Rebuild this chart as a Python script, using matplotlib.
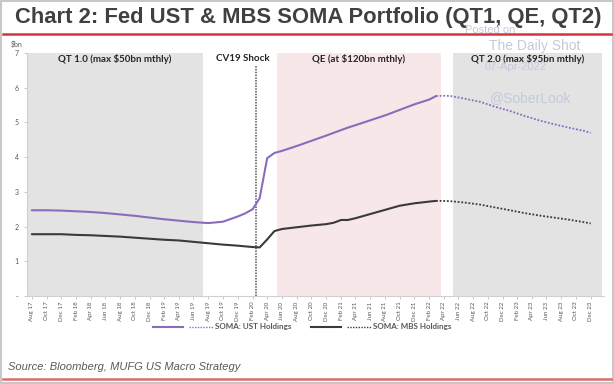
import matplotlib
matplotlib.use("Agg")
import matplotlib.pyplot as plt
import matplotlib.dates as mdates
from matplotlib.lines import Line2D
from matplotlib.patches import Rectangle
import pandas as pd

# ---------------- data ----------------
hist_dates = ["2017-08", "2017-10", "2017-12", "2018-02", "2018-04", "2018-06", "2018-08",
              "2018-10", "2018-12", "2019-02", "2019-04", "2019-06", "2019-08", "2019-10",
              "2019-12", "2020-01", "2020-02", "2020-03", "2020-04", "2020-05", "2020-06",
              "2020-08", "2020-10", "2020-12", "2021-01", "2021-02", "2021-03", "2021-04",
              "2021-06", "2021-08", "2021-10", "2021-12", "2022-02", "2022-03"]
ust_hist = [2.47, 2.47, 2.46, 2.44, 2.42, 2.39, 2.35, 2.31, 2.26, 2.21, 2.17, 2.13, 2.10, 2.14,
            2.29, 2.38, 2.50, 2.82, 3.97, 4.12, 4.18, 4.32, 4.47, 4.62, 4.70, 4.78, 4.85, 4.92,
            5.06, 5.20, 5.36, 5.52, 5.66, 5.76]
mbs_hist = [1.78, 1.78, 1.78, 1.76, 1.75, 1.73, 1.71, 1.68, 1.65, 1.62, 1.60, 1.56, 1.52, 1.48,
            1.45, 1.43, 1.41, 1.40, 1.63, 1.87, 1.93, 1.98, 2.03, 2.07, 2.11, 2.19, 2.19, 2.24,
            2.36, 2.48, 2.60, 2.67, 2.72, 2.74]

proj_dates = ["2022-03", "2022-04", "2022-05", "2022-07", "2022-09", "2022-11", "2023-01",
              "2023-03", "2023-05", "2023-07", "2023-09", "2023-11", "2023-12"]
ust_proj = [5.76, 5.77, 5.76, 5.68, 5.59, 5.45, 5.33, 5.19, 5.06, 4.95, 4.85, 4.76, 4.70]
mbs_proj = [2.74, 2.74, 2.73, 2.69, 2.63, 2.55, 2.47, 2.39, 2.32, 2.26, 2.20, 2.13, 2.09]

phase_labels = ["QT 1.0 (max $50bn mthly)", "CV19 Shock", "QE (at $120bn mthly)",
                "QT 2.0 (max $95bn mthly)"]
qt1_span = ("2017-07-12", "2019-07-10")
qe_span = ("2020-05-12", "2022-03-21")
qt2_span = ("2022-05-10", "2024-01-18")
shock_date = "2020-02-13"
cv19_label_date = "2019-12-24"

tick_dates = pd.date_range("2017-08-01", "2023-12-01", freq="2MS")
tick_labels = [d.strftime("%b %y") for d in tick_dates]
y_ticks = [0, 1, 2, 3, 4, 5, 6, 7]
y_tick_labels = ["-", "1", "2", "3", "4", "5", "6", "7"]

legend_labels = ["SOMA: UST Holdings", "SOMA: MBS Holdings"]
title = "Chart 2: Fed UST & MBS SOMA Portfolio (QT1, QE, QT2)"
source = "Source: Bloomberg, MUFG US Macro Strategy"

# ---------------- style ----------------
PURPLE = "#8a6cbd"
DARK = "#3a3a3a"
GREY_BG = "#e3e3e3"
PINK_BG = "#f7e7e9"
WM = "#c3cadb"

hd = pd.to_datetime(hist_dates)
pdt = pd.to_datetime(proj_dates)
D = lambda s: mdates.date2num(pd.Timestamp(s))

fig = plt.figure(figsize=(6.14, 3.84), dpi=100)
fig.patch.set_facecolor("white")
ax = fig.add_axes([27 / 614, 1 - 296 / 384, 577 / 614, 243 / 384])
ax.set_facecolor("white")

# shaded regimes
ax.axvspan(D(qt1_span[0]), D(qt1_span[1]), color=GREY_BG, lw=0, zorder=0)
ax.axvspan(D(qe_span[0]), D(qe_span[1]), color=PINK_BG, lw=0, zorder=0)
ax.axvspan(D(qt2_span[0]), D(qt2_span[1]), color=GREY_BG, lw=0, zorder=0)

# shock line
ax.plot([D(shock_date), D(shock_date)], [0, 6.65], color="#555555", lw=1.1,
        ls=(0, (1, 0.8)), zorder=2)

# series
ax.plot(hd, ust_hist, color=PURPLE, lw=1.5, zorder=3, solid_capstyle="round")
ax.plot(pdt, ust_proj, color=PURPLE, lw=1.3, ls=(0, (1, 1)), zorder=3)
ax.plot(hd, mbs_hist, color=DARK, lw=1.5, zorder=3, solid_capstyle="round")
ax.plot(pdt, mbs_proj, color=DARK, lw=1.3, ls=(0, (1, 1)), zorder=3)

# phase labels
lab_font = dict(family="Lato", fontweight="bold", fontsize=7, color="#262626",
                ha="center", va="center", zorder=4)
mid = lambda a, b: (D(a) + D(b)) / 2
ax.text(mid(*qt1_span), 6.83, phase_labels[0], **lab_font)
ax.text(D(cv19_label_date), 6.83, phase_labels[1], **lab_font)
ax.text(mid(*qe_span), 6.83, phase_labels[2], **lab_font)
ax.text(mid(*qt2_span), 6.83, phase_labels[3], **lab_font)

ax.set_ylim(0, 7)
ax.set_xlim(D("2017-07-12"), D("2024-01-25"))
ax.set_yticks(y_ticks)
ax.set_yticklabels(y_tick_labels)
ax.set_xticks(tick_dates)
ax.set_xticklabels(tick_labels, rotation=90)
for s in ["top", "right"]:
    ax.spines[s].set_visible(False)
for s in ["left", "bottom"]:
    ax.spines[s].set_color("#d0d0d0")
    ax.spines[s].set_linewidth(0.8)
ax.tick_params(axis="y", length=2, width=0.6, color="#bfbfbf", labelsize=5,
               labelcolor="#595959", pad=4)
ax.tick_params(axis="x", length=2.5, width=0.6, color="#bfbfbf", labelsize=4.4,
               labelcolor="#595959", pad=1.5)
for t in ax.get_xticklabels() + ax.get_yticklabels():
    t.set_family("Lato")

# unit label
fig.text(17 / 614, 1 - 44 / 384, "$bn", fontsize=5, color="#595959", family="Lato",
         ha="center", va="center")

# legend (manual)
ly = 1 - 327 / 384
def leg(x0, color, label):
    fig.add_artist(Line2D([x0 / 614, (x0 + 30) / 614], [ly, ly], color=color, lw=1.5,
                          transform=fig.transFigure))
    fig.add_artist(Line2D([(x0 + 36) / 614, (x0 + 60) / 614], [ly, ly], color=color, lw=1.0,
                          ls=(0, (1, 1)), transform=fig.transFigure))
    fig.text((x0 + 62) / 614, ly, label, fontsize=5.8, color="#595959", family="Lato",
             fontweight="bold", ha="left", va="center")
leg(153, PURPLE, legend_labels[0])
leg(311, DARK, legend_labels[1])

# title and rules
fig.text(15 / 614, 1 - 18 / 384, title, fontsize=15.8, fontweight="bold",
         family="Liberation Sans", color="#404040", ha="left", va="center")
fig.add_artist(Line2D([3 / 614, 611 / 614], [1 - 34 / 384] * 2, color="#d2353c", lw=1.8,
                      transform=fig.transFigure))
fig.add_artist(Line2D([3 / 614, 611 / 614], [1 - 379 / 384] * 2, color="#e06a6a", lw=1.8,
                      transform=fig.transFigure))
fig.text(8 / 614, 1 - 367 / 384, source, fontsize=8, style="italic", family="Liberation Sans",
         color="#595959", ha="left", va="center")

# watermark
fig.text(490 / 614, 1 - 30 / 384, "Posted on", fontsize=8, color=WM, family="Liberation Sans",
         ha="center", va="center")
fig.text(535 / 614, 1 - 46 / 384, "The Daily Shot", fontsize=10, color=WM,
         family="Liberation Sans", ha="center", va="center")
fig.text(516 / 614, 1 - 67 / 384, "07-Apr-2022", fontsize=8, color=WM,
         family="Liberation Sans", ha="center", va="center")
fig.text(531 / 614, 1 - 98 / 384, "@SoberLook", fontsize=10, color=WM,
         family="Liberation Sans", ha="center", va="center")

# outer frame
fig.add_artist(Rectangle((0.002, 0.003), 0.996, 0.994, transform=fig.transFigure,
                         fill=False, ec="#c8c8c8", lw=1.5))

fig.savefig("out.png", dpi=100)
